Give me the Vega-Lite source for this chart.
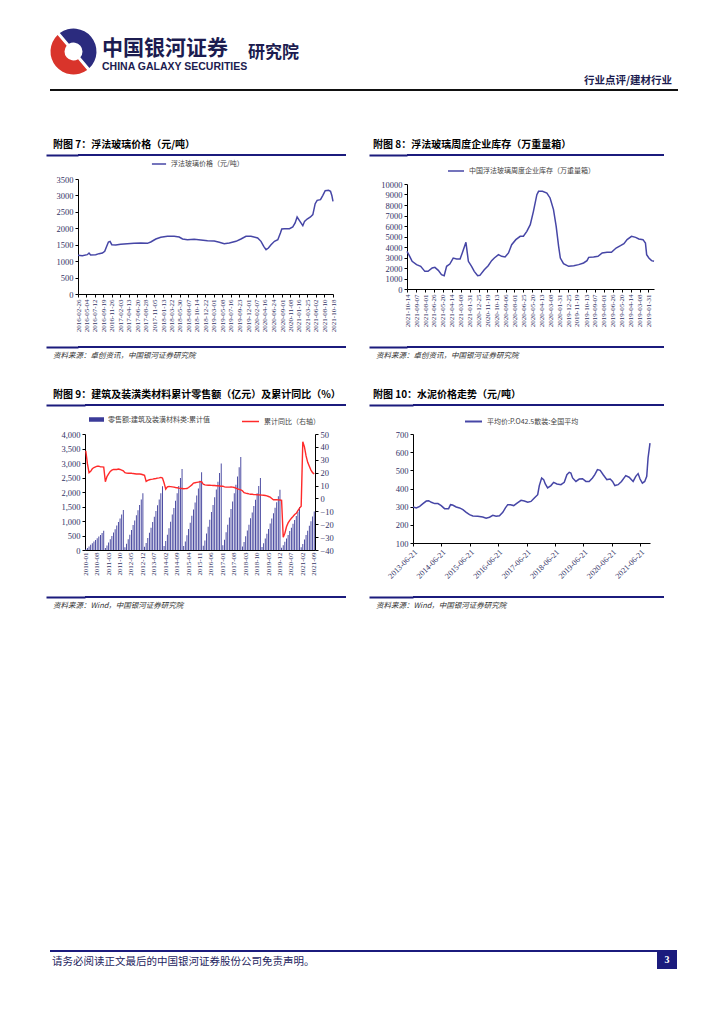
{
"$schema": "https://vega.github.io/schema/vega-lite/v6.json",
"background": "white",
"padding": {"left": 22, "top": 28, "right": 0, "bottom": 0},
"config": {
  "font": "Noto Sans CJK SC",
  "view": {"stroke": null},
  "axis": {"grid": false, "domainColor": "#000", "tickColor": "#000", "tickSize": 3, "labelFont": "Liberation Serif", "labelFontSize": 8.5, "labelColor": "#333366", "labelPadding": 2, "labelFlush": false},
  "legend": {"labelFont": "Noto Sans CJK SC", "labelFontSize": 7, "labelColor": "#444", "symbolStrokeWidth": 1.5, "orient": "none"},
  "title": {"font": "Noto Sans CJK SC", "color": "#000"}
},
"resolve": {"scale": {"stroke": "independent", "fill": "independent", "color": "independent"}},
"concat": [
 {"concat": [
  {"concat": [
    {"concat": [
      {"width": 23, "height": 1, "data": {"values": []}, "mark": "point"},
      {"width": 57, "height": 47, "data": {"values": [{"k": "a", "v": 1}, {"k": "b", "v": 1}]},
       "mark": {"type": "arc", "innerRadius": 9, "outerRadius": 23, "padAngle": 0.12},
       "encoding": {"theta": {"field": "v", "type": "quantitative", "stack": true, "scale": {"range": [-0.7, 5.583]}},
                    "color": {"field": "k", "type": "nominal", "scale": {"range": ["#2b2b7e", "#d9342b"]}, "legend": null}}},
      {"width": 142, "height": 47, "data": {"values": []}, "mark": "point",
       "title": {"text": "中国银河证券", "subtitle": "CHINA GALAXY SECURITIES", "anchor": "start", "frame": "group", "orient": "top", "offset": -44, "fontSize": 21, "fontWeight": "bold", "color": "#1c1c50", "subtitleFontSize": 10.5, "subtitleFontWeight": "bold", "subtitleFont": "Liberation Sans Narrow, Liberation Sans", "subtitleColor": "#1c1c50", "subtitlePadding": 3}},
      {"width": 60, "height": 47, "data": {"values": []}, "mark": "point",
       "title": {"text": "研究院", "anchor": "start", "frame": "group", "orient": "top", "offset": -34, "fontSize": 17, "fontWeight": "bold", "color": "#1c1c50"}}
    ], "columns": 4, "spacing": 0, "align": "none", "resolve": {"scale": {"color": "independent"}}},
    {"concat": [
      {"width": 28, "height": 1, "data": {"values": []}, "mark": "point"},
      {"width": 628, "height": 2, "data": {"values": []}, "mark": "point", "view": {"fill": "#111", "stroke": null},
       "title": {"text": "行业点评/建材行业", "anchor": "end", "frame": "group", "dx": -6, "offset": 3, "fontSize": 10.5, "fontWeight": "bold", "color": "#1c1c50"}}
    ], "columns": 2, "spacing": 0, "align": "none"}
  ], "columns": 1, "spacing": 0, "align": "none", "resolve": {"scale": {"color": "independent"}}},
  {"concat": [
    {"concat": [
      {"width": 1, "height": 1, "data": {"values": []}, "mark": "point"},
      {"concat": [
        {"width": 268, "height": 2, "data": {"values": [{}]}, "mark": {"type": "point", "opacity": 0, "size": 0}, "view": {"fill": "#1b1b7d", "stroke": null},
         "encoding": {"y": {"datum": 0.5, "type": "quantitative", "scale": {"domain": [0, 1]}, "axis": {"domain": false, "labels": false, "values": [0.5], "tickSize": 32, "tickWidth": 2, "tickColor": "#1b1b7d", "title": null, "minExtent": 0}}},
         "title": {"text": "附图 7：浮法玻璃价格（元/吨）", "anchor": "start", "frame": "bounds", "dx": 8, "offset": 4, "fontSize": 10, "fontWeight": "bold", "color": "#000"}},
        {"width": 255, "height": 115,
         "data": {"values": [
{"d":"2016-02-26","p":1177},{"d":"2016-04-01","p":1167},{"d":"2016-05-11","p":1197},{"d":"2016-05-25","p":1248},{"d":"2016-06-07","p":1187},{"d":"2016-07-18","p":1197},{"d":"2016-08-14","p":1228},{"d":"2016-09-10","p":1248},{"d":"2016-09-29","p":1299},{"d":"2016-10-15","p":1451},{"d":"2016-10-29","p":1583},{"d":"2016-11-11","p":1603},{"d":"2016-11-25","p":1501},{"d":"2016-12-27","p":1491},{"d":"2017-02-05","p":1512},{"d":"2017-03-31","p":1532},{"d":"2017-05-24","p":1542},{"d":"2017-07-17","p":1552},{"d":"2017-09-09","p":1542},{"d":"2017-10-06","p":1583},{"d":"2017-11-16","p":1674},{"d":"2017-12-26","p":1725},{"d":"2018-02-18","p":1755},{"d":"2018-04-13","p":1755},{"d":"2018-05-24","p":1735},{"d":"2018-06-20","p":1674},{"d":"2018-07-30","p":1654},{"d":"2018-09-22","p":1664},{"d":"2018-11-15","p":1643},{"d":"2019-01-08","p":1623},{"d":"2019-03-03","p":1613},{"d":"2019-04-13","p":1573},{"d":"2019-05-23","p":1532},{"d":"2019-07-03","p":1552},{"d":"2019-08-26","p":1603},{"d":"2019-10-05","p":1674},{"d":"2019-11-15","p":1755},{"d":"2019-12-25","p":1755},{"d":"2020-02-17","p":1704},{"d":"2020-03-15","p":1603},{"d":"2020-04-06","p":1451},{"d":"2020-04-25","p":1349},{"d":"2020-05-14","p":1400},{"d":"2020-06-04","p":1501},{"d":"2020-07-02","p":1603},{"d":"2020-07-29","p":1654},{"d":"2020-08-19","p":1857},{"d":"2020-08-30","p":1978},{"d":"2020-09-20","p":1989},{"d":"2020-10-31","p":1989},{"d":"2020-11-27","p":2039},{"d":"2020-12-16","p":2161},{"d":"2021-01-01","p":2344},{"d":"2021-01-20","p":2232},{"d":"2021-02-16","p":2080},{"d":"2021-03-02","p":2212},{"d":"2021-03-23","p":2283},{"d":"2021-04-19","p":2344},{"d":"2021-05-08","p":2415},{"d":"2021-05-27","p":2749},{"d":"2021-06-12","p":2851},{"d":"2021-07-09","p":2871},{"d":"2021-07-28","p":3003},{"d":"2021-08-16","p":3145},{"d":"2021-09-12","p":3155},{"d":"2021-09-28","p":3125},{"d":"2021-10-09","p":2993},{"d":"2021-10-18","p":2820}
         ]},
         "mark": {"type": "line", "strokeWidth": 1.5},
         "encoding": {
           "x": {"field": "d", "type": "temporal", "scale": {"type": "utc", "nice": false},
                 "axis": {"title": null, "format": "%Y-%m-%d", "labelAngle": -90, "labelFontSize": 7, "labelOverlap": false, "minExtent": 52,
                   "values": [{"year":2016,"month":2,"date":26,"utc":true},{"year":2016,"month":5,"date":4,"utc":true},{"year":2016,"month":7,"date":12,"utc":true},{"year":2016,"month":9,"date":19,"utc":true},{"year":2016,"month":11,"date":26,"utc":true},{"year":2017,"month":2,"date":3,"utc":true},{"year":2017,"month":4,"date":13,"utc":true},{"year":2017,"month":6,"date":20,"utc":true},{"year":2017,"month":8,"date":28,"utc":true},{"year":2017,"month":11,"date":5,"utc":true},{"year":2018,"month":1,"date":13,"utc":true},{"year":2018,"month":3,"date":22,"utc":true},{"year":2018,"month":5,"date":30,"utc":true},{"year":2018,"month":8,"date":7,"utc":true},{"year":2018,"month":10,"date":14,"utc":true},{"year":2018,"month":12,"date":22,"utc":true},{"year":2019,"month":3,"date":1,"utc":true},{"year":2019,"month":5,"date":8,"utc":true},{"year":2019,"month":7,"date":16,"utc":true},{"year":2019,"month":9,"date":23,"utc":true},{"year":2019,"month":12,"date":1,"utc":true},{"year":2020,"month":2,"date":7,"utc":true},{"year":2020,"month":4,"date":16,"utc":true},{"year":2020,"month":6,"date":24,"utc":true},{"year":2020,"month":9,"date":1,"utc":true},{"year":2020,"month":11,"date":8,"utc":true},{"year":2021,"month":1,"date":16,"utc":true},{"year":2021,"month":3,"date":25,"utc":true},{"year":2021,"month":6,"date":2,"utc":true},{"year":2021,"month":8,"date":10,"utc":true},{"year":2021,"month":10,"date":18,"utc":true}]}},
           "y": {"field": "p", "type": "quantitative", "scale": {"domain": [0, 3500], "nice": false},
                 "axis": {"title": null, "values": [0,500,1000,1500,2000,2500,3000,3500], "format": "d", "minExtent": 32}},
           "stroke": {"datum": "浮法玻璃价格（元/吨）", "type": "nominal", "scale": {"range": ["#4646a6"]},
                      "legend": {"orient": "none", "legendX": 73, "legendY": -23, "title": null, "symbolType": "stroke", "symbolSize": 200}}
         }},
        {"width": 268, "height": 2, "data": {"values": [{}]}, "mark": {"type": "point", "opacity": 0, "size": 0}, "view": {"fill": "#1b1b7d", "stroke": null},
         "encoding": {"y": {"datum": 0.5, "type": "quantitative", "scale": {"domain": [0, 1]}, "axis": {"domain": false, "labels": false, "values": [0.5], "tickSize": 32, "tickWidth": 2, "tickColor": "#1b1b7d", "title": null, "minExtent": 0}}},
         "title": {"text": "资料来源：卓创资讯，中国银河证券研究院", "orient": "bottom", "anchor": "start", "frame": "bounds", "dx": 8, "offset": 4, "fontSize": 7.5, "fontStyle": "italic", "fontWeight": "normal", "color": "#333"}}
      ], "columns": 1, "spacing": 0, "align": "none", "resolve": {"scale": {"stroke": "independent", "fill": "independent"}}},
      {"concat": [
        {"width": 257, "height": 2, "data": {"values": [{}]}, "mark": {"type": "point", "opacity": 0, "size": 0}, "view": {"fill": "#1b1b7d", "stroke": null},
         "encoding": {"y": {"datum": 0.5, "type": "quantitative", "scale": {"domain": [0, 1]}, "axis": {"domain": false, "labels": false, "values": [0.5], "tickSize": 38, "tickWidth": 2, "tickColor": "#1b1b7d", "title": null, "minExtent": 0}}},
         "title": {"text": "附图 8：浮法玻璃周度企业库存（万重量箱）", "anchor": "start", "frame": "bounds", "dx": 5, "offset": 4, "fontSize": 10, "fontWeight": "bold", "color": "#000"}},
        {"width": 247, "height": 105,
         "data": {"values": [
{"d":"2021-10-14","v":3590},{"d":"2021-10-03","v":3110},{"d":"2021-09-23","v":2635},{"d":"2021-09-05","v":2320},{"d":"2021-08-19","v":2160},{"d":"2021-08-02","v":1680},{"d":"2021-07-20","v":1680},{"d":"2021-07-03","v":2000},{"d":"2021-06-22","v":2060},{"d":"2021-06-08","v":1780},{"d":"2021-05-26","v":1365},{"d":"2021-05-15","v":1270},{"d":"2021-05-05","v":2160},{"d":"2021-04-22","v":2380},{"d":"2021-04-08","v":2950},{"d":"2021-03-25","v":2860},{"d":"2021-03-11","v":2860},{"d":"2021-03-02","v":3430},{"d":"2021-02-15","v":4445},{"d":"2021-02-05","v":2635},{"d":"2021-01-23","v":2160},{"d":"2021-01-12","v":1680},{"d":"2020-12-29","v":1270},{"d":"2020-12-20","v":1300},{"d":"2020-12-02","v":1840},{"d":"2020-11-16","v":2220},{"d":"2020-11-02","v":2700},{"d":"2020-10-22","v":2950},{"d":"2020-10-05","v":3270},{"d":"2020-09-22","v":3110},{"d":"2020-09-08","v":3050},{"d":"2020-08-25","v":3430},{"d":"2020-08-12","v":4220},{"d":"2020-07-26","v":4700},{"d":"2020-07-08","v":5020},{"d":"2020-06-25","v":5020},{"d":"2020-06-11","v":5490},{"d":"2020-05-28","v":6130},{"d":"2020-05-15","v":7400},{"d":"2020-05-01","v":8985},{"d":"2020-04-24","v":9300},{"d":"2020-04-08","v":9300},{"d":"2020-03-21","v":9140},{"d":"2020-03-08","v":8670},{"d":"2020-02-23","v":7560},{"d":"2020-02-12","v":5970},{"d":"2020-02-02","v":4060},{"d":"2020-01-26","v":2950},{"d":"2020-01-13","v":2410},{"d":"2019-12-23","v":2160},{"d":"2019-12-02","v":2220},{"d":"2019-11-12","v":2320},{"d":"2019-10-23","v":2480},{"d":"2019-10-09","v":2700},{"d":"2019-10-02","v":3015},{"d":"2019-09-12","v":3050},{"d":"2019-08-25","v":3110},{"d":"2019-08-08","v":3430},{"d":"2019-07-19","v":3490},{"d":"2019-07-01","v":3490},{"d":"2019-06-12","v":3900},{"d":"2019-05-25","v":4130},{"d":"2019-05-11","v":4320},{"d":"2019-04-28","v":4700},{"d":"2019-04-10","v":5020},{"d":"2019-03-24","v":4920},{"d":"2019-03-11","v":4760},{"d":"2019-02-22","v":4700},{"d":"2019-02-12","v":4380},{"d":"2019-02-07","v":3270},{"d":"2019-01-29","v":2950},{"d":"2019-01-18","v":2700},{"d":"2019-01-08","v":2635}
         ]},
         "mark": {"type": "line", "strokeWidth": 1.5},
         "encoding": {
           "x": {"field": "d", "type": "temporal", "scale": {"type": "utc", "nice": false, "reverse": true},
                 "axis": {"title": null, "format": "%Y-%m-%d", "labelAngle": -90, "labelFontSize": 7, "labelOverlap": false, "minExtent": 57,
                   "values": [{"year":2021,"month":10,"date":14,"utc":true},{"year":2021,"month":9,"date":7,"utc":true},{"year":2021,"month":8,"date":1,"utc":true},{"year":2021,"month":6,"date":26,"utc":true},{"year":2021,"month":5,"date":20,"utc":true},{"year":2021,"month":4,"date":14,"utc":true},{"year":2021,"month":3,"date":8,"utc":true},{"year":2021,"month":1,"date":31,"utc":true},{"year":2020,"month":12,"date":25,"utc":true},{"year":2020,"month":11,"date":19,"utc":true},{"year":2020,"month":10,"date":13,"utc":true},{"year":2020,"month":9,"date":6,"utc":true},{"year":2020,"month":8,"date":1,"utc":true},{"year":2020,"month":6,"date":25,"utc":true},{"year":2020,"month":5,"date":20,"utc":true},{"year":2020,"month":4,"date":13,"utc":true},{"year":2020,"month":3,"date":8,"utc":true},{"year":2020,"month":1,"date":31,"utc":true},{"year":2019,"month":12,"date":25,"utc":true},{"year":2019,"month":11,"date":19,"utc":true},{"year":2019,"month":10,"date":13,"utc":true},{"year":2019,"month":9,"date":7,"utc":true},{"year":2019,"month":8,"date":1,"utc":true},{"year":2019,"month":6,"date":26,"utc":true},{"year":2019,"month":5,"date":20,"utc":true},{"year":2019,"month":4,"date":14,"utc":true},{"year":2019,"month":3,"date":8,"utc":true},{"year":2019,"month":1,"date":31,"utc":true}]}},
           "y": {"field": "v", "type": "quantitative", "scale": {"domain": [0, 10000], "nice": false},
                 "axis": {"title": null, "values": [0,1000,2000,3000,4000,5000,6000,7000,8000,9000,10000], "format": "d", "minExtent": 38}},
           "stroke": {"datum": "中国浮法玻璃周度企业库存（万重量箱）", "type": "nominal", "scale": {"range": ["#4646a6"]},
                      "legend": {"orient": "none", "legendX": 34, "legendY": -28, "padding": 6, "title": null, "symbolType": "stroke", "symbolSize": 256, "labelLimit": 300}}
         }},
        {"width": 257, "height": 2, "data": {"values": [{}]}, "mark": {"type": "point", "opacity": 0, "size": 0}, "view": {"fill": "#1b1b7d", "stroke": null},
         "encoding": {"y": {"datum": 0.5, "type": "quantitative", "scale": {"domain": [0, 1]}, "axis": {"domain": false, "labels": false, "values": [0.5], "tickSize": 38, "tickWidth": 2, "tickColor": "#1b1b7d", "title": null, "minExtent": 0}}},
         "title": {"text": "资料来源：卓创资讯，中国银河证券研究院", "orient": "bottom", "anchor": "start", "frame": "bounds", "dx": 8, "offset": 4, "fontSize": 7.5, "fontStyle": "italic", "fontWeight": "normal", "color": "#333"}}
      ], "columns": 1, "spacing": 0, "align": "none", "resolve": {"scale": {"stroke": "independent", "fill": "independent"}}}
    ], "columns": 3, "spacing": 22, "align": "none", "resolve": {"scale": {"stroke": "independent", "fill": "independent"}}},
    {"concat": [
      {"width": 1, "height": 1, "data": {"values": []}, "mark": "point"},
      {"concat": [
        {"width": 261, "height": 2, "data": {"values": [{}]}, "mark": {"type": "point", "opacity": 0, "size": 0}, "view": {"fill": "#1b1b7d", "stroke": null},
         "encoding": {"y": {"datum": 0.5, "type": "quantitative", "scale": {"domain": [0, 1]}, "axis": {"domain": false, "labels": false, "values": [0.5], "tickSize": 39, "tickWidth": 2, "tickColor": "#1b1b7d", "title": null, "minExtent": 0}}},
         "title": {"text": "附图 9：建筑及装潢类材料累计零售额（亿元）及累计同比（%）", "anchor": "start", "frame": "bounds", "dx": 8, "offset": 4, "fontSize": 10, "fontWeight": "bold", "color": "#000"}},
        {"width": 230, "height": 116,
         "data": {"values": [
{"m":"2010-01","s":33,"y":37},{"m":"2010-02","s":73,"y":27},{"m":"2010-03","s":125,"y":20},{"m":"2010-04","s":178,"y":21},{"m":"2010-05","s":231,"y":23},{"m":"2010-06","s":290,"y":24},{"m":"2010-07","s":343,"y":24.5},{"m":"2010-08","s":403,"y":25},{"m":"2010-09","s":462,"y":25},{"m":"2010-10","s":521,"y":24.5},{"m":"2010-11","s":587,"y":24.5},{"m":"2010-12","s":660,"y":24.3},
{"m":"2011-01","s":69,"y":13},{"m":"2011-02","s":152,"y":17},{"m":"2011-03","s":262,"y":19},{"m":"2011-04","s":373,"y":21},{"m":"2011-05","s":483,"y":22},{"m":"2011-06","s":607,"y":22.5},{"m":"2011-07","s":718,"y":22.5},{"m":"2011-08","s":842,"y":22.5},{"m":"2011-09","s":966,"y":22.8},{"m":"2011-10","s":1090,"y":22.5},{"m":"2011-11","s":1228,"y":22},{"m":"2011-12","s":1380,"y":21.5},
{"m":"2012-01","s":98,"y":20},{"m":"2012-02","s":216,"y":19.6},{"m":"2012-03","s":372,"y":19.5},{"m":"2012-04","s":529,"y":19.5},{"m":"2012-05","s":686,"y":19.5},{"m":"2012-06","s":862,"y":19.3},{"m":"2012-07","s":1019,"y":19.2},{"m":"2012-08","s":1196,"y":19},{"m":"2012-09","s":1372,"y":19},{"m":"2012-10","s":1548,"y":19},{"m":"2012-11","s":1744,"y":18.8},{"m":"2012-12","s":1960,"y":18.4},
{"m":"2013-01","s":110,"y":18},{"m":"2013-02","s":242,"y":13.2},{"m":"2013-03","s":418,"y":14},{"m":"2013-04","s":594,"y":14.5},{"m":"2013-05","s":770,"y":14.8},{"m":"2013-06","s":968,"y":15},{"m":"2013-07","s":1144,"y":15.3},{"m":"2013-08","s":1342,"y":15.5},{"m":"2013-09","s":1540,"y":15.8},{"m":"2013-10","s":1738,"y":16},{"m":"2013-11","s":1958,"y":16.3},{"m":"2013-12","s":2200,"y":15.8},
{"m":"2014-01","s":140,"y":12},{"m":"2014-02","s":307,"y":7.2},{"m":"2014-03","s":530,"y":9},{"m":"2014-04","s":753,"y":9.3},{"m":"2014-05","s":977,"y":9.2},{"m":"2014-06","s":1228,"y":9},{"m":"2014-07","s":1451,"y":8.8},{"m":"2014-08","s":1702,"y":8.5},{"m":"2014-09","s":1953,"y":8.3},{"m":"2014-10","s":2204,"y":8},{"m":"2014-11","s":2483,"y":7.8},{"m":"2014-12","s":2790,"y":7.7},
{"m":"2015-01","s":134,"y":7.5},{"m":"2015-02","s":295,"y":7.6},{"m":"2015-03","s":509,"y":7.7},{"m":"2015-04","s":724,"y":8.5},{"m":"2015-05","s":938,"y":9.5},{"m":"2015-06","s":1179,"y":10.5},{"m":"2015-07","s":1394,"y":11.9},{"m":"2015-08","s":1635,"y":12.2},{"m":"2015-09","s":1876,"y":12.5},{"m":"2015-10","s":2117,"y":12.7},{"m":"2015-11","s":2385,"y":12.9},{"m":"2015-12","s":2680,"y":13},
{"m":"2016-01","s":149,"y":11},{"m":"2016-02","s":328,"y":10.5},{"m":"2016-03","s":566,"y":10.3},{"m":"2016-04","s":805,"y":10.2},{"m":"2016-05","s":1043,"y":10.2},{"m":"2016-06","s":1311,"y":10.1},{"m":"2016-07","s":1550,"y":10},{"m":"2016-08","s":1818,"y":10},{"m":"2016-09","s":2086,"y":9.8},{"m":"2016-10","s":2354,"y":9.8},{"m":"2016-11","s":2652,"y":9.7},{"m":"2016-12","s":2980,"y":9.5},
{"m":"2017-01","s":161,"y":9.5},{"m":"2017-02","s":353,"y":9},{"m":"2017-03","s":610,"y":8.8},{"m":"2017-04","s":867,"y":8.8},{"m":"2017-05","s":1124,"y":8.8},{"m":"2017-06","s":1412,"y":8.9},{"m":"2017-07","s":1669,"y":8.8},{"m":"2017-08","s":1958,"y":8.5},{"m":"2017-09","s":2247,"y":8},{"m":"2017-10","s":2536,"y":7.5},{"m":"2017-11","s":2857,"y":7},{"m":"2017-12","s":3210,"y":6.7},
{"m":"2018-01","s":124,"y":6},{"m":"2018-02","s":273,"y":4.5},{"m":"2018-03","s":471,"y":4.1},{"m":"2018-04","s":670,"y":3.8},{"m":"2018-05","s":868,"y":3.5},{"m":"2018-06","s":1091,"y":3.3},{"m":"2018-07","s":1290,"y":3.2},{"m":"2018-08","s":1513,"y":3},{"m":"2018-09","s":1736,"y":3},{"m":"2018-10","s":1959,"y":2.9},{"m":"2018-11","s":2207,"y":2.8},{"m":"2018-12","s":2480,"y":2.7},
{"m":"2019-01","s":104,"y":2.6},{"m":"2019-02","s":229,"y":2.5},{"m":"2019-03","s":395,"y":2.3},{"m":"2019-04","s":562,"y":2},{"m":"2019-05","s":728,"y":1.5},{"m":"2019-06","s":915,"y":1},{"m":"2019-07","s":1082,"y":0},{"m":"2019-08","s":1269,"y":-1},{"m":"2019-09","s":1456,"y":-1},{"m":"2019-10","s":1643,"y":-1},{"m":"2019-11","s":1851,"y":-1.1},{"m":"2019-12","s":2080,"y":-1.2},
{"m":"2020-01","s":74,"y":-1.5},{"m":"2020-02","s":163,"y":-30},{"m":"2020-03","s":281,"y":-27},{"m":"2020-04","s":400,"y":-22},{"m":"2020-05","s":518,"y":-19},{"m":"2020-06","s":651,"y":-17},{"m":"2020-07","s":770,"y":-15.4},{"m":"2020-08","s":903,"y":-14},{"m":"2020-09","s":1036,"y":-12.5},{"m":"2020-10","s":1169,"y":-11.5},{"m":"2020-11","s":1317,"y":-9.5},{"m":"2020-12","s":1480,"y":-7.5},
{"m":"2021-01","s":95,"y":-6},{"m":"2021-02","s":209,"y":44},{"m":"2021-03","s":361,"y":40},{"m":"2021-04","s":513,"y":33},{"m":"2021-05","s":665,"y":28},{"m":"2021-06","s":836,"y":25},{"m":"2021-07","s":988,"y":22},{"m":"2021-08","s":1159,"y":20},{"m":"2021-09","s":1330,"y":19}
         ]},
         "encoding": {
           "x": {"field": "m", "type": "ordinal", "scale": {"paddingInner": 0.45, "paddingOuter": 0.2},
                 "axis": {"title": null, "labelAngle": -90, "labelFontSize": 7, "labelOverlap": false, "minExtent": 46, "ticks": false,
                   "values": ["2010-01","2010-08","2011-03","2011-10","2012-05","2012-12","2013-07","2014-02","2014-09","2015-04","2015-11","2016-06","2017-01","2017-08","2018-03","2018-10","2019-05","2019-12","2020-07","2021-02","2021-09"]}}
         },
         "layer": [
           {"mark": {"type": "bar"},
            "encoding": {
              "y": {"field": "s", "type": "quantitative", "scale": {"domain": [0, 4000], "nice": false},
                    "axis": {"title": null, "values": [0,500,1000,1500,2000,2500,3000,3500,4000], "format": ",d", "minExtent": 39}},
              "fill": {"datum": "零售额:建筑及装潢材料类:累计值", "type": "nominal", "scale": {"range": ["#3b3b99"]},
                       "legend": {"orient": "none", "legendX": -2, "legendY": -28, "padding": 6, "title": null, "symbolType": "M-1,-0.3H1V0.3H-1Z", "symbolSize": 225, "symbolStrokeWidth": 0, "labelLimit": 300}}
            }},
           {"mark": {"type": "line", "strokeWidth": 1.4},
            "encoding": {
              "y": {"field": "y", "type": "quantitative", "scale": {"domain": [-40, 50], "nice": false},
                    "axis": {"title": null, "orient": "right", "values": [-40,-30,-20,-10,0,10,20,30,40,50]}},
              "stroke": {"datum": "累计同比（右轴）", "type": "nominal", "scale": {"range": ["#ff2a2a"]},
                         "legend": {"orient": "none", "legendX": 150, "legendY": -28, "padding": 6, "title": null, "symbolType": "stroke", "symbolSize": 289}}
            }}
         ],
         "resolve": {"scale": {"y": "independent"}}},
        {"width": 261, "height": 2, "data": {"values": [{}]}, "mark": {"type": "point", "opacity": 0, "size": 0}, "view": {"fill": "#1b1b7d", "stroke": null},
         "encoding": {"y": {"datum": 0.5, "type": "quantitative", "scale": {"domain": [0, 1]}, "axis": {"domain": false, "labels": false, "values": [0.5], "tickSize": 39, "tickWidth": 2, "tickColor": "#1b1b7d", "title": null, "minExtent": 0}}},
         "title": {"text": "资料来源：Wind，中国银河证券研究院", "orient": "bottom", "anchor": "start", "frame": "bounds", "dx": 8, "offset": 4, "fontSize": 7.5, "fontStyle": "italic", "fontWeight": "normal", "color": "#333"}}
      ], "columns": 1, "spacing": 0, "align": "none", "resolve": {"scale": {"stroke": "independent", "fill": "independent"}}},
      {"concat": [
        {"width": 251, "height": 2, "data": {"values": [{}]}, "mark": {"type": "point", "opacity": 0, "size": 0}, "view": {"fill": "#1b1b7d", "stroke": null},
         "encoding": {"y": {"datum": 0.5, "type": "quantitative", "scale": {"domain": [0, 1]}, "axis": {"domain": false, "labels": false, "values": [0.5], "tickSize": 44, "tickWidth": 2, "tickColor": "#1b1b7d", "title": null, "minExtent": 0}}},
         "title": {"text": "附图 10：水泥价格走势（元/吨）", "anchor": "start", "frame": "bounds", "dx": 5, "offset": 4, "fontSize": 10, "fontWeight": "bold", "color": "#000"}},
        {"width": 237, "height": 109,
         "data": {"values": [
{"d":"2013-06-21","v":298},{"d":"2013-08-03","v":293},{"d":"2013-09-15","v":302},{"d":"2013-10-27","v":317},{"d":"2013-12-09","v":331},{"d":"2014-01-08","v":333},{"d":"2014-02-12","v":324},{"d":"2014-03-27","v":317},{"d":"2014-05-08","v":317},{"d":"2014-06-19","v":306},{"d":"2014-08-01","v":289},{"d":"2014-09-22","v":289},{"d":"2014-10-17","v":311},{"d":"2014-11-12","v":309},{"d":"2014-12-29","v":298},{"d":"2015-02-10","v":293},{"d":"2015-03-25","v":284},{"d":"2015-05-07","v":269},{"d":"2015-06-18","v":256},{"d":"2015-07-31","v":249},{"d":"2015-10-03","v":247},{"d":"2015-12-05","v":243},{"d":"2016-01-18","v":236},{"d":"2016-03-01","v":242},{"d":"2016-04-13","v":252},{"d":"2016-05-25","v":247},{"d":"2016-07-07","v":250},{"d":"2016-08-19","v":269},{"d":"2016-09-22","v":293},{"d":"2016-10-22","v":311},{"d":"2016-11-25","v":311},{"d":"2017-01-07","v":306},{"d":"2017-02-19","v":320},{"d":"2017-04-11","v":335},{"d":"2017-05-24","v":331},{"d":"2017-07-06","v":324},{"d":"2017-08-17","v":329},{"d":"2017-09-29","v":348},{"d":"2017-11-11","v":366},{"d":"2017-12-02","v":416},{"d":"2018-01-01","v":458},{"d":"2018-01-27","v":449},{"d":"2018-02-17","v":425},{"d":"2018-03-19","v":403},{"d":"2018-05-01","v":416},{"d":"2018-06-04","v":434},{"d":"2018-07-17","v":425},{"d":"2018-09-06","v":421},{"d":"2018-10-19","v":434},{"d":"2018-11-22","v":476},{"d":"2018-12-22","v":489},{"d":"2019-01-12","v":485},{"d":"2019-02-03","v":458},{"d":"2019-03-18","v":439},{"d":"2019-04-30","v":452},{"d":"2019-06-11","v":454},{"d":"2019-07-24","v":439},{"d":"2019-09-04","v":439},{"d":"2019-10-17","v":458},{"d":"2019-11-16","v":476},{"d":"2019-12-20","v":504},{"d":"2020-01-24","v":500},{"d":"2020-03-03","v":476},{"d":"2020-04-19","v":449},{"d":"2020-06-01","v":452},{"d":"2020-07-01","v":439},{"d":"2020-07-31","v":416},{"d":"2020-09-11","v":421},{"d":"2020-10-24","v":439},{"d":"2020-12-18","v":471},{"d":"2021-01-30","v":462},{"d":"2021-03-23","v":439},{"d":"2021-04-26","v":467},{"d":"2021-05-26","v":482},{"d":"2021-06-20","v":452},{"d":"2021-07-20","v":430},{"d":"2021-08-19","v":439},{"d":"2021-09-14","v":467},{"d":"2021-10-01","v":568},{"d":"2021-10-26","v":650}
         ]},
         "mark": {"type": "line", "strokeWidth": 1.5},
         "encoding": {
           "x": {"field": "d", "type": "temporal", "scale": {"type": "utc", "nice": false},
                 "axis": {"title": null, "format": "%Y-%m-%d", "labelAngle": -45, "labelFontSize": 8, "labelOverlap": false, "minExtent": 53,
                   "values": [{"year":2013,"month":6,"date":21,"utc":true},{"year":2014,"month":6,"date":21,"utc":true},{"year":2015,"month":6,"date":21,"utc":true},{"year":2016,"month":6,"date":21,"utc":true},{"year":2017,"month":6,"date":21,"utc":true},{"year":2018,"month":6,"date":21,"utc":true},{"year":2019,"month":6,"date":21,"utc":true},{"year":2020,"month":6,"date":21,"utc":true},{"year":2021,"month":6,"date":21,"utc":true}]}},
           "y": {"field": "v", "type": "quantitative", "scale": {"domain": [100, 700], "nice": false, "zero": false},
                 "axis": {"title": null, "values": [100,200,300,400,500,600,700], "format": "d", "minExtent": 44}},
           "stroke": {"datum": "平均价:P.O42.5散装:全国平均", "type": "nominal", "scale": {"range": ["#4646a6"]},
                      "legend": {"orient": "none", "legendX": 45, "legendY": -28, "padding": 6, "title": null, "symbolType": "stroke", "symbolSize": 289, "symbolStrokeWidth": 2, "labelLimit": 300}}
         }},
        {"width": 251, "height": 2, "data": {"values": [{}]}, "mark": {"type": "point", "opacity": 0, "size": 0}, "view": {"fill": "#1b1b7d", "stroke": null},
         "encoding": {"y": {"datum": 0.5, "type": "quantitative", "scale": {"domain": [0, 1]}, "axis": {"domain": false, "labels": false, "values": [0.5], "tickSize": 44, "tickWidth": 2, "tickColor": "#1b1b7d", "title": null, "minExtent": 0}}},
         "title": {"text": "资料来源：Wind，中国银河证券研究院", "orient": "bottom", "anchor": "start", "frame": "bounds", "dx": 8, "offset": 4, "fontSize": 7.5, "fontStyle": "italic", "fontWeight": "normal", "color": "#333"}}
      ], "columns": 1, "spacing": 0, "align": "none", "resolve": {"scale": {"stroke": "independent", "fill": "independent"}}}
    ], "columns": 3, "spacing": 22, "align": "none", "resolve": {"scale": {"stroke": "independent", "fill": "independent"}}}
  ], "columns": 1, "spacing": 30, "align": "none", "resolve": {"scale": {"stroke": "independent", "fill": "independent"}}}
 ], "columns": 1, "spacing": 49, "align": "none", "resolve": {"scale": {"stroke": "independent", "fill": "independent", "color": "independent"}}},
 {"concat": [
   {"width": 28, "height": 1, "data": {"values": []}, "mark": "point"},
   {"width": 607, "height": 2, "data": {"values": []}, "mark": "point", "view": {"fill": "#1b1b7d", "stroke": null},
    "title": {"text": "请务必阅读正文最后的中国银河证券股份公司免责声明。", "orient": "bottom", "anchor": "start", "frame": "group", "dx": 2, "offset": 5, "fontSize": 10.5, "fontWeight": "normal", "color": "#24245e"}},
   {"width": 20, "height": 19, "data": {"values": [{"t": "3"}]}, "mark": {"type": "text", "color": "#fff", "fontSize": 10, "font": "Liberation Serif", "fontWeight": "bold"},
    "encoding": {"text": {"field": "t", "type": "nominal"}}, "view": {"fill": "#1b1b7d", "stroke": null}}
 ], "columns": 3, "spacing": 0, "align": "none"}
],
"columns": 1, "spacing": 340, "align": "none"
}
